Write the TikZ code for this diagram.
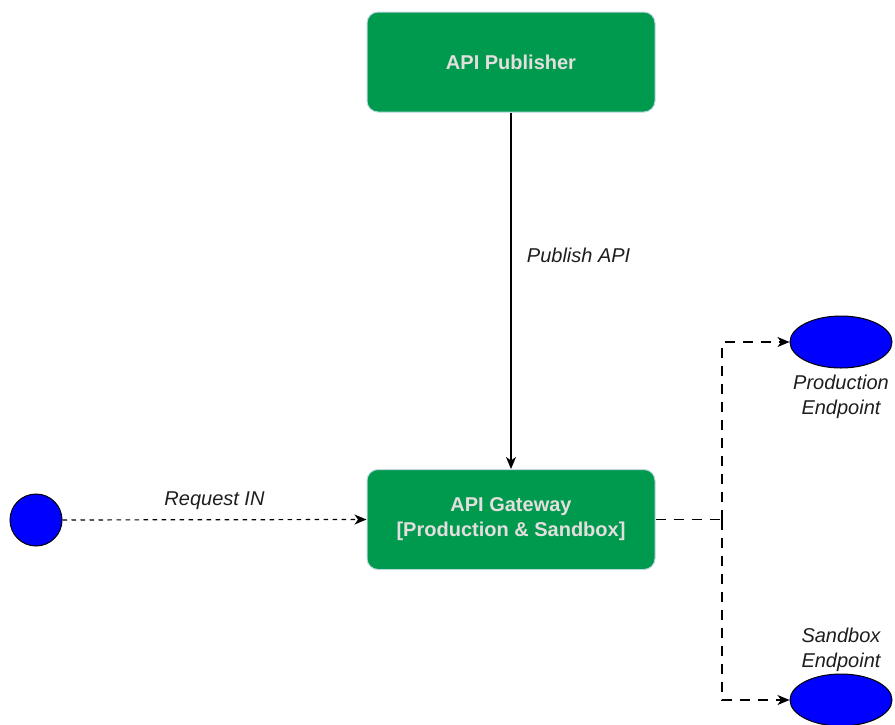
\documentclass[tikz,border=0pt]{standalone}
\usepackage{fontspec}
\setmainfont{Liberation Sans}
\usetikzlibrary{arrows.meta,shapes.geometric}
\definecolor{boxgreen}{RGB}{0,154,78}
\definecolor{boxedge}{RGB}{190,215,225}
\definecolor{boxtext}{RGB}{228,222,222}
\definecolor{labeltext}{RGB}{30,30,30}
\tikzset{
  greenbox/.style={draw=boxedge, line width=1pt, fill=boxgreen, rounded corners=11pt,
    minimum width=288pt, minimum height=100pt, text=boxtext, align=center,
    font=\fontsize{20}{25}\selectfont\bfseries},
  bluecirc/.style={circle, draw=black, line width=1pt, fill=blue, minimum size=52pt, inner sep=0pt},
  blueell/.style={ellipse, draw=black, line width=1pt, fill=blue, minimum width=102pt, minimum height=52pt, inner sep=0pt},
  lbl/.style={font=\fontsize{20}{25}\selectfont\itshape, text=labeltext, align=center},
  arr/.style={-{Stealth[length=12pt,width=10pt,inset=3.5pt]}, line width=1.2pt},
  shortdash/.style={dash pattern=on 4.5pt off 4.5pt},
  longdash/.style={dash pattern=on 10pt off 8pt},
}
\begin{document}
\begin{tikzpicture}[x=1pt,y=-1pt]
\useasboundingbox (0,0) rectangle (895,724);
\node[greenbox] (pub) at (511,62) {API Publisher};
\node[greenbox] (gw) at (511,519.5) {API Gateway\\{}[Production \& Sandbox]};
\node[bluecirc] (src) at (36,520) {};
\node[blueell] (prod) at (841,342) {};
\node[blueell] (sand) at (841,700) {};
\coordinate (split) at (722,519.5);
\coordinate (ptop) at (722,342);
\coordinate (pbot) at (722,700);

\draw[arr] (pub) -- (gw) node[lbl, pos=0.4, right=12pt] {Publish API};
\draw[arr, shortdash] (src) -- (gw.west) node[lbl, midway, above=6pt] {Request IN};
\draw[line width=1.2pt, longdash] (gw.east) -- (split);
\draw[arr, longdash] (split) -- (ptop) -- (prod.west);
\draw[arr, longdash] (split) -- (pbot) -- (sand.west);

\node[lbl] (prodlbl) at (841,397) {Production\\Endpoint};
\node[lbl] (sandlbl) at (841,650) {Sandbox\\Endpoint};
\end{tikzpicture}
\end{document}
